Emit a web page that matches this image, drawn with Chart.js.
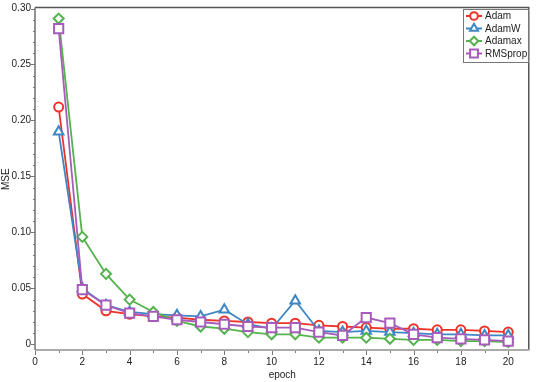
<!DOCTYPE html>
<html>
<head>
<meta charset="utf-8">
<script src="https://cdn.jsdelivr.net/npm/chart.js@4/dist/chart.umd.min.js"></script>
<style>
  html, body { margin: 0; padding: 0; background: #fff; }
  #wrap { width: 538px; height: 382px; }
</style>
</head>
<body>
<div id="wrap"><canvas id="c" width="538" height="382"></canvas></div>
<script>
// ---------- Data ----------
const epochs = [1, 2, 3, 4, 5, 6, 7, 8, 9, 10, 11, 12, 13, 14, 15, 16, 17, 18, 19, 20];
const adam    = [0.212, 0.045, 0.030, 0.027, 0.025, 0.024, 0.022, 0.021, 0.020, 0.019, 0.019, 0.017, 0.016, 0.015, 0.014, 0.014, 0.013, 0.013, 0.012, 0.011];
const adamW   = [0.190, 0.050, 0.035, 0.029, 0.027, 0.026, 0.025, 0.031, 0.018, 0.014, 0.039, 0.012, 0.011, 0.012, 0.011, 0.010, 0.009, 0.009, 0.008, 0.008];
const adamax  = [0.291, 0.096, 0.063, 0.040, 0.029, 0.021, 0.016, 0.014, 0.011, 0.009, 0.009, 0.006, 0.006, 0.006, 0.005, 0.004, 0.004, 0.003, 0.003, 0.002];
const rmsprop = [0.282, 0.049, 0.035, 0.028, 0.025, 0.022, 0.020, 0.018, 0.016, 0.015, 0.015, 0.011, 0.008, 0.024, 0.019, 0.009, 0.006, 0.005, 0.004, 0.003];

const xTicks = [0, 2, 4, 6, 8, 10, 12, 14, 16, 18, 20];
const yTicks = [0, 0.05, 0.10, 0.15, 0.20, 0.25, 0.30];
const yTickLabels = ['0', '0.05', '0.10', '0.15', '0.20', '0.25', '0.30'];

const FONT = { family: '"Liberation Sans", Arial, sans-serif', size: 10 };

const series = [
  { label: 'Adam',    data: adam,    color: '#ec3429', style: 'circle',   r: 4.5 },
  { label: 'AdamW',   data: adamW,   color: '#3d87c4', style: 'triangle', r: 5.5 },
  { label: 'Adamax',  data: adamax,  color: '#54b34c', style: 'rectRot',  r: 5   },
  { label: 'RMSprop', data: rmsprop, color: '#a75cbb', style: 'rect',     r: 6.5 },
];

// tick marks (major + minor), frame and the boxed legend
const extras = {
  id: 'extras',
  afterDraw(chart) {
    const { ctx, chartArea: a, scales: { x, y } } = chart;
    ctx.save();
    ctx.strokeStyle = '#777';
    ctx.lineWidth = 1;
    ctx.beginPath();
    for (let v = 0; v <= 20; v++) {
      const px = Math.round(x.getPixelForValue(v)) + 0.5;
      const len = v % 2 === 0 ? 5 : 3;
      ctx.moveTo(px, a.bottom); ctx.lineTo(px, a.bottom + len);
    }
    for (let i = 0; i <= 30; i++) {
      const py = Math.round(y.getPixelForValue(i / 100)) + 0.5;
      const len = i % 5 === 0 ? 4 : 2;
      ctx.moveTo(a.left, py); ctx.lineTo(a.left - len, py);
    }
    ctx.stroke();

    // frame: dark top/right, grey axes
    ctx.strokeStyle = '#555';
    ctx.lineWidth = 1.5;
    ctx.beginPath();
    ctx.moveTo(a.left, a.top - 1); ctx.lineTo(a.right - 0.75, a.top - 1); ctx.lineTo(a.right - 0.75, a.bottom);
    ctx.stroke();
    ctx.strokeStyle = '#aaa';
    ctx.lineWidth = 2;
    ctx.beginPath();
    ctx.moveTo(a.left, a.bottom); ctx.lineTo(a.right, a.bottom);
    ctx.stroke();
    ctx.strokeStyle = '#6f6f6f';
    ctx.lineWidth = 1.5;
    ctx.beginPath();
    ctx.moveTo(a.left, a.top - 1); ctx.lineTo(a.left, a.bottom);
    ctx.stroke();

    // legend
    const bx = 463.5, by = 9.5, bw = 65, bh = 53;
    ctx.fillStyle = '#fff';
    ctx.fillRect(bx, by, bw, bh);
    ctx.strokeStyle = '#777';
    ctx.lineWidth = 1;
    ctx.strokeRect(bx, by, bw, bh);
    ctx.font = '10px ' + FONT.family;
    ctx.textBaseline = 'middle';
    series.forEach((s, i) => {
      const cy = 16 + i * 12.5;
      ctx.strokeStyle = s.color;
      ctx.lineWidth = 2;
      ctx.beginPath(); ctx.moveTo(466, cy); ctx.lineTo(482, cy); ctx.stroke();
      ctx.fillStyle = '#fff';
      Chart.helpers.drawPoint(ctx, { pointStyle: s.style, radius: s.r * 0.85, borderWidth: 2 }, 474, cy);
      ctx.fillStyle = '#222';
      ctx.fillText(s.label, 485, cy + 0.5);
    });
    ctx.restore();
  }
};

new Chart(document.getElementById('c'), {
  type: 'line',
  data: {
    datasets: series.map((s, i) => ({
      label: s.label,
      data: epochs.map((e, j) => ({ x: e, y: s.data[j] })),
      order: series.length - i, // later series drawn on top
      borderColor: s.color,
      backgroundColor: '#fff',
      borderWidth: 1.8,
      pointStyle: s.style,
      pointRadius: s.r,
      pointBorderWidth: 2,
      pointBackgroundColor: '#fff',
      pointBorderColor: s.color,
      tension: 0,
    })),
  },
  options: {
    responsive: false,
    animation: false,
    layout: { padding: { top: 2, right: 4, left: 0, bottom: 0 } },
    plugins: { legend: { display: false }, tooltip: { enabled: false } },
    scales: {
      x: {
        type: 'linear', min: 0, max: 20.9,
        afterBuildTicks: s => { s.ticks = xTicks.map(v => ({ value: v })); },
        afterFit: s => { s.height = 32; s.paddingLeft = 0; s.paddingRight = 0; },
        grid: { display: false, drawTicks: false },
        border: { display: false },
        ticks: { color: '#222', font: FONT, padding: 6, maxRotation: 0 },
        title: { display: true, text: 'epoch', color: '#222', font: FONT, padding: { top: 0, bottom: 1 } },
      },
      y: {
        type: 'linear', min: -0.005, max: 0.30,
        afterBuildTicks: s => { s.ticks = yTicks.map(v => ({ value: v })); },
        afterFit: s => { s.width = 35; s.paddingTop = 0; s.paddingBottom = 0; },
        grid: { display: false, drawTicks: false },
        border: { display: false },
        ticks: { color: '#222', font: FONT, padding: 4, callback: (v, i) => yTickLabels[i] },
        title: { display: true, text: 'MSE', color: '#222', font: FONT, padding: { top: 0, bottom: 0 } },
      },
    },
  },
  plugins: [extras],
});
</script>
</body>
</html>
